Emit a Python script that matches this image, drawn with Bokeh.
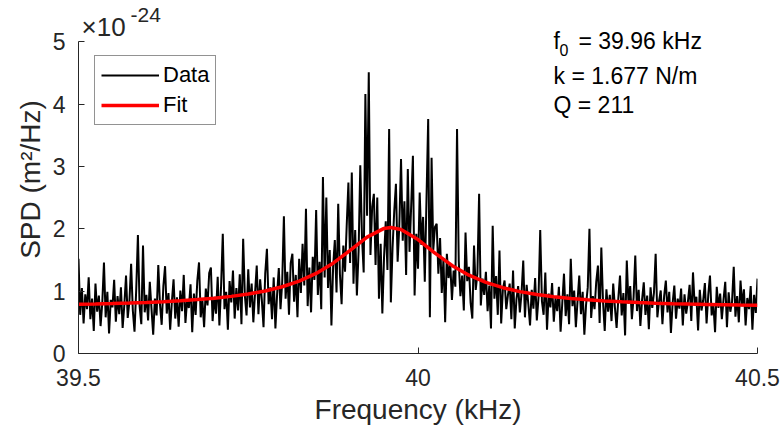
import numpy as np
from bokeh.plotting import figure
from bokeh.models import Range1d, FixedTicker, Legend, LegendItem, Label
from bokeh.embed import file_html
from bokeh.resources import INLINE

# ---- data (SPD values in units of 1e-24 m^2/Hz) ----
SPD_EXPONENT = "-24"
freq_start = 39.5      # kHz
freq_step = 0.0025     # kHz
data_spd = [
    1.52, 0.62, 1.05, 0.48, 0.95, 0.71, 1.22, 0.55, 0.88, 0.36, 1.12, 0.67, 0.93, 0.44, 0.81, 1.46, 0.58, 0.99, 0.32, 0.86,
    0.74, 1.18, 0.51, 0.92, 0.63, 1.06, 0.41, 0.78, 1.25, 0.57, 0.84, 1.44, 0.69, 0.35, 1.02, 1.90, 0.76, 0.47, 1.73, 0.66,
    0.94, 0.53, 1.15, 0.72, 0.30, 0.88, 0.61, 1.42, 0.79, 0.46, 1.08, 1.40, 0.64, 0.97, 0.38, 0.83, 1.19, 0.56, 0.90, 0.43,
    1.01, 0.68, 1.26, 0.49, 0.87, 0.73, 1.11, 0.34, 0.96, 0.62, 1.17, 1.46, 0.58, 0.85, 0.42, 1.04, 0.77, 1.29, 1.38, 0.52,
    0.91, 0.64, 1.23, 0.45, 1.08, 1.92, 0.71, 0.99, 0.38, 1.16, 0.82, 1.33, 0.56, 1.05, 0.69, 1.27, 0.47, 1.84, 0.93, 0.61,
    1.35, 0.74, 1.12, 0.50, 0.97, 1.41, 0.63, 1.19, 0.86, 0.42, 1.28, 1.68, 0.79, 1.06, 0.55, 1.22, 0.40, 0.95, 1.37, 0.71,
    1.14, 2.20, 0.88, 1.31, 0.62, 1.45, 1.60, 0.83, 1.26, 0.58, 1.52, 0.97, 1.76, 1.09, 2.32, 0.76, 1.38, 0.66, 1.55, 1.18,
    2.30, 0.94, 1.47, 0.71, 2.83, 1.22, 2.50, 1.05, 1.66, 0.45, 1.39, 1.82, 0.98, 2.40, 1.27, 0.79, 1.73, 1.31, 2.05, 2.74,
    1.45, 2.90, 1.12, 1.98, 0.93, 1.64, 3.02, 1.87, 1.30, 4.16, 2.21, 4.51, 1.58, 2.35, 2.56, 1.42, 2.50, 0.88, 1.76, 0.64,
    1.55, 2.12, 1.34, 3.60, 0.82, 1.69, 2.28, 2.72, 1.47, 2.05, 3.12, 1.81, 2.44, 1.26, 2.96, 1.63, 2.38, 3.17, 0.93, 1.92,
    1.36, 2.58, 1.74, 2.19, 1.15, 2.47, 3.76, 0.58, 3.14, 1.66, 2.03, 2.08, 1.28, 1.85, 0.97, 1.52, 0.50, 1.60, 1.21, 1.44,
    0.86, 1.33, 1.07, 3.60, 1.48, 0.92, 1.25, 0.69, 1.94, 1.16, 1.39, 0.81, 0.56, 1.73, 1.02, 1.28, 2.56, 0.77, 1.20, 0.94,
    1.31, 0.68, 1.09, 0.40, 2.05, 0.88, 1.24, 0.62, 1.65, 0.48, 1.03, 1.17, 0.71, 0.94, 1.12, 0.55, 1.33, 0.40, 0.87, 1.08,
    0.66, 0.97, 1.49, 0.58, 1.10, 0.79, 0.45, 1.02, 0.72, 1.21, 0.53, 0.90, 1.98, 0.84, 0.62, 1.30, 0.38, 0.96, 0.74, 1.13,
    0.51, 0.89, 0.68, 1.07, 0.35, 0.81, 1.28, 0.60, 0.95, 0.47, 1.52, 0.76, 1.01, 0.42, 0.85, 1.25, 0.63, 0.99, 0.30, 0.78,
    1.06, 2.00, 0.57, 0.92, 0.71, 1.15, 1.41, 0.49, 1.70, 0.83, 0.36, 1.03, 0.67, 0.94, 0.52, 1.12, 0.74, 0.41, 0.88, 1.25,
    0.61, 0.97, 0.29, 1.49, 0.80, 1.08, 0.55, 0.90, 1.57, 0.68, 1.02, 0.44, 0.86, 1.14, 0.62, 0.93, 0.39, 1.06, 0.73, 0.97,
    1.60, 0.58, 0.84, 1.01, 0.47, 0.92, 1.17, 0.66, 0.99, 0.33, 0.81, 1.09, 0.56, 0.88, 0.72, 1.04, 0.45, 0.95, 0.64, 0.83,
    1.10, 0.52, 1.30, 0.77, 0.91, 0.37, 1.02, 0.69, 0.85, 1.13, 0.48, 0.94, 1.25, 0.61, 0.80, 0.34, 1.07, 0.73, 0.96, 0.55,
    0.87, 1.15, 0.42, 0.98, 0.67, 0.83, 1.39, 0.59, 0.92, 0.50, 1.17, 0.76, 1.03, 0.45, 0.89, 0.71, 1.08, 0.38, 0.94, 0.65,
    1.20,
]
data_freq = freq_start + freq_step * np.arange(len(data_spd))

fit_freq = [39.500, 39.525, 39.550, 39.575, 39.600, 39.625, 39.650, 39.675, 39.700, 39.725,
            39.750, 39.775, 39.800, 39.825, 39.850, 39.875, 39.900, 39.925, 39.950, 39.960,
            39.975, 40.000, 40.025, 40.050, 40.075, 40.100, 40.125, 40.150, 40.175, 40.200,
            40.225, 40.250, 40.275, 40.300, 40.325, 40.350, 40.375, 40.400, 40.425, 40.450,
            40.475, 40.500]
fit_spd = [0.788, 0.793, 0.800, 0.809, 0.819, 0.831, 0.845, 0.864, 0.886, 0.916,
           0.953, 1.003, 1.070, 1.161, 1.284, 1.449, 1.654, 1.866, 2.006, 2.020,
           1.989, 1.827, 1.610, 1.412, 1.256, 1.140, 1.055, 0.992, 0.945, 0.909,
           0.881, 0.860, 0.842, 0.828, 0.817, 0.807, 0.799, 0.792, 0.787, 0.782,
           0.777, 0.774]

x_ticks = [39.5, 40.0, 40.5]
x_tick_labels = {39.5: "39.5", 40.0: "40", 40.5: "40.5"}
y_ticks = [0, 1, 2, 3, 4, 5]

annot_f0 = "= 39.96 kHz"
annot_k = "k = 1.677 N/m"
annot_q = "Q = 211"

FONT = "Liberation Sans"
AX = "#262626"

# frame extends a little above the y=5 tick so the exponent label has room
p = figure(frame_width=679, frame_height=348,
           min_border_left=78, min_border_right=27, min_border_top=5, min_border_bottom=86,
           x_range=Range1d(39.5, 40.5), y_range=Range1d(0, 5.58),
           output_backend="svg", toolbar_location=None,
           background_fill_color="white", border_fill_color="white")
p.outline_line_color = None
p.grid.visible = False

r_data = p.line(data_freq, data_spd, line_color="black", line_width=2.0)
r_fit = p.line(fit_freq, fit_spd, line_color="#ff0000", line_width=3.5)

for ax in (p.xaxis[0], p.yaxis[0]):
    ax.axis_line_color = AX
    ax.axis_line_width = 1
    ax.major_tick_line_color = AX
    ax.major_tick_in = 6
    ax.major_tick_out = 0
    ax.minor_tick_line_color = None
    ax.major_label_text_font = FONT
    ax.major_label_text_font_size = "23px"
    ax.major_label_text_color = AX
    ax.axis_label_text_font = FONT
    ax.axis_label_text_font_size = "28px"
    ax.axis_label_text_font_style = "normal"
    ax.axis_label_text_color = AX

p.xaxis.ticker = FixedTicker(ticks=x_ticks)
p.xaxis.major_label_overrides = x_tick_labels
p.xaxis.major_label_standoff = 15
p.xaxis.axis_label = "Frequency (kHz)"
p.xaxis.axis_label_standoff = 5

p.yaxis.ticker = FixedTicker(ticks=y_ticks)
p.yaxis.bounds = (0, 5)
p.yaxis.major_label_standoff = 13
p.yaxis.axis_label = "SPD (m²/Hz)"
p.yaxis.axis_label_standoff = 4

legend = Legend(items=[LegendItem(label="Data", renderers=[r_data]),
                       LegendItem(label="Fit", renderers=[r_fit])],
                location=(16, 228), orientation="vertical")
legend.label_text_font = FONT
legend.label_text_font_size = "22px"
legend.label_text_color = "black"
legend.border_line_color = AX
legend.border_line_width = 1
legend.background_fill_color = "white"
legend.background_fill_alpha = 1
legend.padding = 6
legend.spacing = 4
legend.margin = 0
legend.glyph_width = 58
legend.glyph_height = 22
legend.label_height = 22
legend.label_standoff = 4
p.add_layout(legend, "center")

def lab(x, y, text, size, color="#000000"):
    p.add_layout(Label(x=x, y=y, x_units="screen", y_units="screen", text=text,
                       text_font=FONT, text_font_size=size, text_color=color,
                       text_baseline="alphabetic", text_align="left"))

# exponent above y axis (screen units relative to frame bottom-left)
lab(3, 327, "×10", "26px", AX)
lab(52, 339, SPD_EXPONENT, "21px", AX)

# annotations
lab(475, 313, "f", "23px")
lab(481, 304, "0", "16px")
lab(500, 313, annot_f0, "23px")
lab(475, 278, annot_k, "23px")
lab(475, 249, annot_q, "23px")

open("out.html", "w").write(file_html(p, INLINE))
